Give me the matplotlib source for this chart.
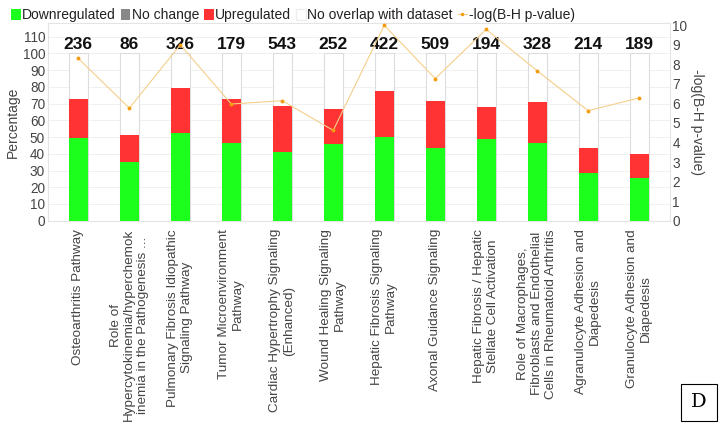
import matplotlib.pyplot as plt
from matplotlib.patches import Patch
from matplotlib.lines import Line2D

plt.rcParams["font.family"] = ["Liberation Sans", "DejaVu Sans"]

# data
pathways = [
    "Osteoarthritis Pathway",
    "Role of\nHypercytokinemia/hyperchemok\ninemia in the Pathogenesis ...",
    "Pulmonary Fibrosis Idiopathic\nSignaling Pathway",
    "Tumor Microenvironment\nPathway",
    "Cardiac Hypertrophy Signaling\n(Enhanced)",
    "Wound Healing Signaling\nPathway",
    "Hepatic Fibrosis Signaling\nPathway",
    "Axonal Guidance Signaling",
    "Hepatic Fibrosis / Hepatic\nStellate Cell Activation",
    "Role of Macrophages,\nFibroblasts and Endothelial\nCells in Rheumatoid Arthritis",
    "Agranulocyte Adhesion and\nDiapedesis",
    "Granulocyte Adhesion and\nDiapedesis",
]
gene_counts = [236, 86, 326, 179, 543, 252, 422, 509, 194, 328, 214, 189]
down_pct = [49.2, 34.9, 52.2, 46.4, 40.9, 46.0, 49.8, 43.6, 49.0, 46.6, 28.5, 25.5]
up_pct = [23.5, 16.1, 27.1, 26.2, 27.5, 21.0, 27.7, 28.1, 19.0, 24.4, 15.0, 14.2]
neg_log_p = [8.3, 5.76, 9.0, 5.97, 6.14, 4.62, 10.0, 7.27, 9.79, 7.67, 5.63, 6.28]

green = "#1cff1c"
red = "#ff3333"
x = list(range(len(pathways)))
w = 0.37

fig = plt.figure(figsize=(7.24, 4.34), dpi=100)
ax = fig.add_axes([0.066, 0.4915, 0.859, 0.4548])

ax.bar(x, [100] * len(x), width=w, color="white", edgecolor="#dddddd", linewidth=0.8, zorder=2)
ax.bar(x, down_pct, width=w, color=green, zorder=3)
ax.bar(x, up_pct, width=w, bottom=down_pct, color=red, zorder=3)

for xi, n in zip(x, gene_counts):
    ax.text(xi, 105.5, str(n), ha="center", va="center", fontsize=12.5, fontweight="bold", color="#111111")

ax.set_xlim(-0.6, len(x) - 0.4)
ax.set_ylim(0, 118)
ax.set_yticks(range(0, 111, 10))
ax.set_ylabel("Percentage", fontsize=10, color="#444444", labelpad=2)
ax.grid(axis="y", color="#f0f0f0", linewidth=0.7, zorder=0)
ax.set_axisbelow(True)
for s in ax.spines.values():
    s.set_color("#e4e4e4")
    s.set_linewidth(0.8)
ax.tick_params(axis="y", length=0, labelsize=9.8, labelcolor="#444444", pad=2)
ax.set_xticks(x)
ax.set_xticklabels(pathways, rotation=90, fontsize=9.7, color="#444444",
                   ha="center", va="top", multialignment="center")
ax.tick_params(axis="x", length=0, pad=6)

ax2 = ax.twinx()
ax2.plot(x, neg_log_p, color="#f5cf8a", linewidth=0.8, marker="o", markersize=1.8,
         markerfacecolor="#f39c12", markeredgecolor="#f39c12", zorder=4)
ax2.set_ylim(0, 10.1)
ax2.set_yticks(range(0, 11))
ax2.tick_params(axis="y", length=0, labelsize=9.8, labelcolor="#444444", pad=2)
ax2.set_ylabel("-log(B-H p-value)", rotation=270, fontsize=10, color="#444444", labelpad=12)
for s in ax2.spines.values():
    s.set_visible(False)

handles = [
    Patch(facecolor=green, edgecolor="none"),
    Patch(facecolor="#888888", edgecolor="none"),
    Patch(facecolor=red, edgecolor="none"),
    Patch(facecolor="white", edgecolor="#eeeeee"),
    Line2D([0], [0], color="#f5cf8a", linewidth=0.8, marker="o", markersize=1.5,
           markerfacecolor="#f39c12", markeredgecolor="#f39c12"),
]
labels = ["Downregulated", "No change", "Upregulated", "No overlap with dataset", "-log(B-H p-value)"]
fig.legend(handles, labels, loc="upper left", bbox_to_anchor=(-0.002, 1.01), ncol=5, frameon=False,
           fontsize=10, handlelength=0.7, handleheight=0.9, handletextpad=0.1, columnspacing=0.35,
           labelcolor="#222222")

fig.text(0.9655, 0.073, "D", ha="center", va="center", fontsize=14, family="DejaVu Serif",
         bbox=dict(boxstyle="square,pad=0.5", facecolor="white", edgecolor="black", linewidth=0.8))

fig.savefig("out.png", dpi=100)
